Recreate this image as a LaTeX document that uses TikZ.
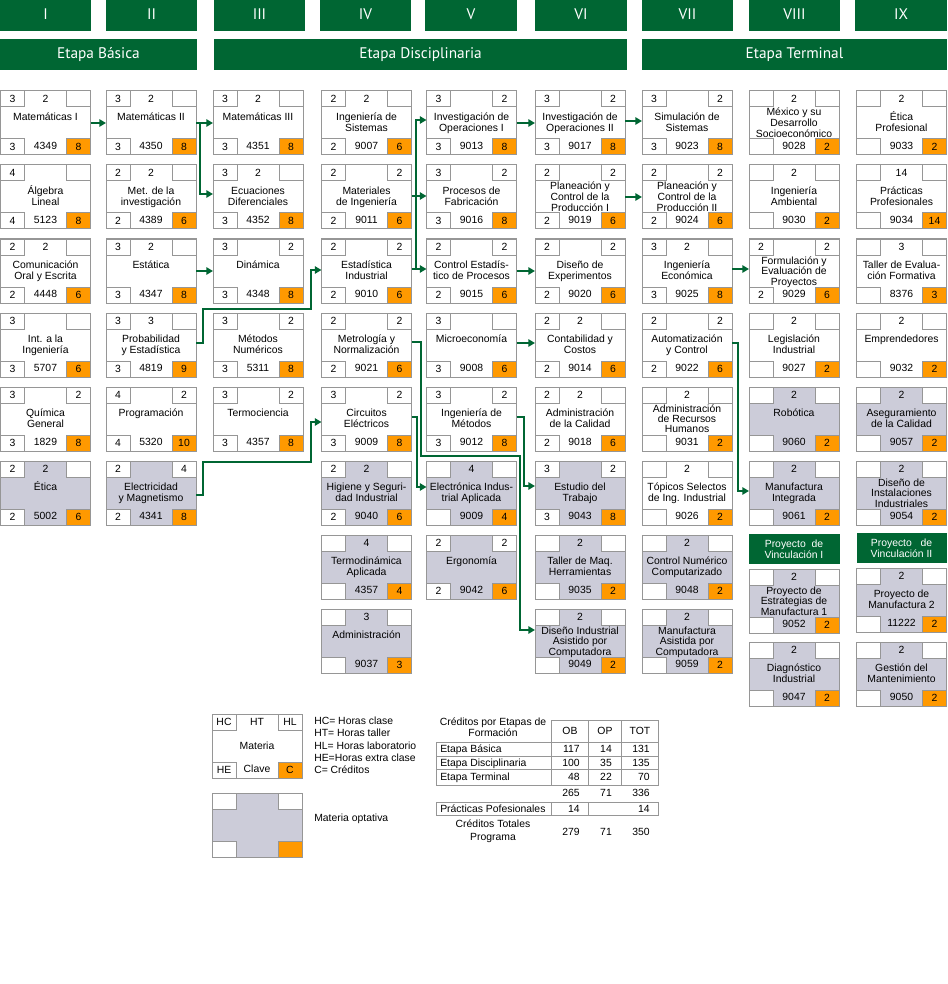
\documentclass[tikz,border=0pt]{standalone}
\usepackage{fontspec}
\setmainfont{Liberation Sans}
\newfontfamily\hdrfont{PT Sans}
\usetikzlibrary{arrows.meta,calc}
\definecolor{ugreen}{RGB}{0,102,51}
\definecolor{uorange}{RGB}{255,153,0}
\definecolor{ugray}{RGB}{204,204,217}
\definecolor{uline}{RGB}{150,150,150}
\def\parsedata#1,#2,#3,#4,#5,#6\relax{\def\dHC{#1}\def\dHT{#2}\def\dHL{#3}\def\dHE{#4}\def\dCl{#5}\def\dC{#6}}
\newcommand\nm[1]{\begin{tabular}[t]{@{}c@{}}#1\end{tabular}}
\tikzset{
  cbox/.style={draw=uline, line width=0.75pt, rectangle, minimum width=67.5pt, minimum height=48pt, inner sep=0pt, outer sep=0pt, anchor=north west},
  cell/.style={draw=uline, line width=0.75pt, fill=white},
  ctext/.style={font=\fontsize{7.8pt}{8.4pt}\selectfont, inner sep=0pt},
  htext/.style={font=\hdrfont\fontsize{11.5pt}{13pt}\selectfont, text=white, inner sep=0pt, anchor=base},
  arr/.style={draw=ugreen, line width=1.5pt, -{Triangle[length=5pt,width=5.5pt]}},
  tline/.style={draw=uline, line width=0.75pt},
}
\newcommand\course[8]{%
  \def\arraystretch{#8}%
  \parsedata#5\relax
  \node[cbox,fill=#4] (#1) at (#2,#3) {};
  \draw[cell] (#2,#3) rectangle (#2+24,#3+16);
  \draw[cell] (#2+66,#3) rectangle (#2+90,#3+16);
  \draw[cell] (#2,#3+48) rectangle (#2+24,#3+64);
  \draw[cell,fill=uorange] (#2+66,#3+48) rectangle (#2+90,#3+64);
  \node[ctext] (#1hc) at (#2+12,#3+8) {\dHC};
  \node[ctext] (#1ht) at (#2+45,#3+8) {\dHT};
  \node[ctext] (#1hl) at (#2+78,#3+8) {\dHL};
  \node[ctext] (#1he) at (#2+12,#3+56) {\dHE};
  \node[ctext] (#1cl) at (#2+45,#3+55) {\dCl};
  \node[ctext] (#1cr) at (#2+78,#3+56) {\dC};
  \node[ctext,anchor=base] (#1n) at (#2+45,#3+#7) {\nm{#6}};
}
\newcommand\cA[6]{\course{#1}{#2}{#3}{#4}{#5}{#6}{29.5}{1}}
\newcommand\cB[6]{\course{#1}{#2}{#3}{#4}{#5}{#6}{25}{0.92}}
\begin{document}
\begin{tikzpicture}[x=0.75pt,y=-0.75pt]
\fill[white] (0,0) rectangle (947,984);
\useasboundingbox (0,0) rectangle (947,984);
% headers
\foreach \a/\b/\t/\n in {0/91/I/1,106/197/II/2,214/305/III/3,320/411/IV/4,425/517/V/5,535/627/VI/6,642/733/VII/7,749/840/VIII/8,855/947/IX/9}{
  \fill[ugreen] (\a,0) rectangle (\b,31);
  \node[htext] (h\n) at ({(\a+\b)/2},19.5) {\t};
}
\fill[ugreen] (0,39) rectangle (197,70);
\node[htext] (eb) at (98.5,59) {Etapa Básica};
\fill[ugreen] (214,39) rectangle (627,70);
\node[htext] (ed) at (420.5,59) {Etapa Disciplinaria};
\fill[ugreen] (642,39) rectangle (947,70);
\node[htext] (et) at (794.5,59) {Etapa Terminal};
% column I
\cA{c11}{0.5}{91}{white}{3,2,,3,4349,8}{Matemáticas I}
\cA{c12}{0.5}{165}{white}{4,,,4,5123,8}{Álgebra\\Lineal}
\cA{c13}{0.5}{239}{white}{2,2,,2,4448,6}{Comunicación\\Oral y Escrita}
\cA{c14}{0.5}{313}{white}{3,,,3,5707,6}{Int. a la\\Ingeniería}
\cA{c15}{0.5}{387}{white}{3,,2,3,1829,8}{Química\\General}
\cA{c16}{0.5}{461}{ugray}{2,2,,2,5002,6}{Ética}
% column II
\cA{c21}{106}{91}{white}{3,2,,3,4350,8}{Matemáticas II}
\cA{c22}{106}{165}{white}{2,2,,2,4389,6}{Met. de la\\investigación}
\cA{c23}{106}{239}{white}{3,2,,3,4347,8}{Estática}
\cA{c24}{106}{313}{white}{3,3,,3,4819,9}{Probabilidad\\y Estadística}
\cA{c25}{106}{387}{white}{4,,2,4,5320,10}{Programación}
\cA{c26}{106}{461}{ugray}{2,,4,2,4341,8}{Electricidad\\y Magnetismo}
% column III
\cA{c31}{213}{91}{white}{3,2,,3,4351,8}{Matemáticas III}
\cA{c32}{213}{165}{white}{3,2,,3,4352,8}{Ecuaciones\\Diferenciales}
\cA{c33}{213}{239}{white}{3,,2,3,4348,8}{Dinámica}
\cA{c34}{213}{313}{white}{3,,2,3,5311,8}{Métodos\\Numéricos}
\cA{c35}{213}{387}{white}{3,,2,3,4357,8}{Termociencia}
% column IV
\cA{c41}{321.5}{91}{white}{2,2,,2,9007,6}{Ingeniería de\\Sistemas}
\cA{c42}{321.5}{165}{white}{2,,2,2,9011,6}{Materiales\\de Ingeniería}
\cA{c43}{321.5}{239}{white}{2,,2,2,9010,6}{Estadística\\Industrial}
\cA{c44}{321.5}{313}{white}{2,,2,2,9021,6}{Metrología y\\Normalización}
\cA{c45}{321.5}{387}{white}{3,,2,3,9009,8}{Circuitos\\Eléctricos}
\cA{c46}{321.5}{461}{ugray}{2,2,,2,9040,6}{Higiene y Seguri-\\dad Industrial}
\cA{c47}{321.5}{535}{ugray}{,4,,,4357,4}{Termodinámica\\Aplicada}
\cA{c48}{321.5}{609}{ugray}{,3,,,9037,3}{Administración}
% column V
\cA{c51}{426.5}{91}{white}{3,,2,3,9013,8}{Investigación de\\Operaciones I}
\cA{c52}{426.5}{165}{white}{3,,2,3,9016,8}{Procesos de\\Fabricación}
\cA{c53}{426.5}{239}{white}{2,,2,2,9015,6}{Control Estadís-\\tico de Procesos}
\cA{c54}{426.5}{313}{white}{3,,,3,9008,6}{Microeconomía}
\cA{c55}{426.5}{387}{white}{3,,2,3,9012,8}{Ingeniería de\\Métodos}
\cA{c56}{426.5}{461}{ugray}{,4,,,9009,4}{Electrónica Indus-\\trial Aplicada}
\cA{c57}{426.5}{535}{ugray}{2,,2,2,9042,6}{Ergonomía}
% column VI
\cA{c61}{535}{91}{white}{3,,2,3,9017,8}{Investigación de\\Operaciones II}
\cB{c62}{535}{165}{white}{2,,2,2,9019,6}{Planeación y\\Control de la\\Producción I}
\cA{c63}{535}{239}{white}{2,,2,2,9020,6}{Diseño de\\Experimentos}
\cA{c64}{535}{313}{white}{2,2,,2,9014,6}{Contabilidad y\\Costos}
\cA{c65}{535}{387}{white}{2,2,,2,9018,6}{Administración\\de la Calidad}
\cA{c66}{535}{461}{ugray}{3,,2,3,9043,8}{Estudio del\\Trabajo}
\cA{c67}{535}{535}{ugray}{,2,,,9035,2}{Taller de Maq.\\Herramientas}
\cB{c68}{535}{609}{ugray}{,2,,,9049,2}{Diseño Industrial\\Asistido por\\Computadora}
% column VII
\cA{c71}{642}{91}{white}{3,,2,3,9023,8}{Simulación de\\Sistemas}
\cB{c72}{642}{165}{white}{2,,2,2,9024,6}{Planeación y\\Control de la\\Producción II}
\cA{c73}{642}{239}{white}{3,2,,3,9025,8}{Ingeniería\\Económica}
\cA{c74}{642}{313}{white}{2,,2,2,9022,6}{Automatización\\y Control}
\cB{c75}{642}{387}{white}{,2,,,9031,2}{Administración\\de Recursos\\Humanos}
\cA{c76}{642}{461}{white}{,2,,,9026,2}{Tópicos Selectos\\de Ing. Industrial}
\cA{c77}{642}{535}{ugray}{,2,,,9048,2}{Control Numérico\\Computarizado}
\cB{c78}{642}{609}{ugray}{,2,,,9059,2}{Manufactura\\Asistida por\\Computadora}
% column VIII
\cB{c81}{749}{91}{white}{,2,,,9028,2}{México y su\\Desarrollo\\Socioeconómico}
\cA{c82}{749}{165}{white}{,2,,,9030,2}{Ingeniería\\Ambiental}
\cB{c83}{749}{239}{white}{2,,2,2,9029,6}{Formulación y\\Evaluación de\\Proyectos}
\cA{c84}{749}{313}{white}{,2,,,9027,2}{Legislación\\Industrial}
\cA{c85}{749}{387}{ugray}{,2,,,9060,2}{Robótica}
\cA{c86}{749}{461}{ugray}{,2,,,9061,2}{Manufactura\\Integrada}
\fill[ugreen] (748.5,534) rectangle (839.5,564);
\node[ctext,text=white,align=center] (pv1) at (794,549) {Proyecto\ \ de\\Vinculación I};
\cB{c87}{749}{569}{ugray}{,2,,,9052,2}{Proyecto de\\Estrategias de\\Manufactura 1}
\cA{c88}{749}{642}{ugray}{,2,,,9047,2}{Diagnóstico\\Industrial}
% column IX
\cA{c91}{856.5}{91}{white}{,2,,,9033,2}{Ética\\Profesional}
\cA{c92}{856.5}{165}{white}{,14,,,9034,14}{Prácticas\\Profesionales}
\cA{c93}{856.5}{239}{white}{,3,,,8376,3}{Taller de Evalua-\\ción Formativa}
\cA{c94}{856.5}{313}{white}{,2,,,9032,2}{Emprendedores}
\cA{c95}{856.5}{387}{ugray}{,2,,,9057,2}{Aseguramiento\\de la Calidad}
\cB{c96}{856.5}{461}{ugray}{,2,,,9054,2}{Diseño de\\Instalaciones\\Industriales}
\fill[ugreen] (856.5,533) rectangle (946.5,563);
\node[ctext,text=white,align=center] (pv2) at (901.5,548) {Proyecto\ \ \ de\\Vinculación II};
\cA{c97}{856.5}{568}{ugray}{,2,,,11222,2}{Proyecto de\\Manufactura 2}
\cA{c98}{856.5}{642}{ugray}{,2,,,9050,2}{Gestión del\\Mantenimiento}
% connectors
\draw[arr] (c11.east) -- (c21.west);
\draw[arr] (c21.east) -- (c31.west);
\draw[arr] ($(c21.east)+(3.5,0)$) |- ($(c32.west)+(0,-3)$);
\draw[arr] (c23.east) -- (c33.west);
\coordinate (k1) at ($(c43.west)+(-11,-1)$);
\draw[arr] ($(c24.east)+(0,-2)$) -- ++(7,0) |- ($(k1|-c33.south)+(0,6)$) -- (k1) -- ($(c43.west)+(0,-1)$);
\coordinate (k2) at ($(c45.west)+(-11,3)$);
\draw[arr] ($(c26.east)+(0,2)$) -- ++(7,0) |- ($(k2|-c35.south)+(0,11)$) -- (k2) -- ($(c45.west)+(0,3)$);
\draw[arr] ($(c42.east)+(0,-1)$) -- ($(c52.west)+(0,-1)$);
\draw[arr] ($(c43.east)+(0,-2)$) -- ($(c53.west)+(0,-2)$);
\draw[arr] ($(c43.east)+(4,-2)$) |- ($(c51.west)+(0,-3)$);
\draw[arr] (c51.east) -- (c61.west);
\draw[arr] ($(c61.east)+(0,-2)$) -- ($(c71.west)+(0,-2)$);
\draw[arr] (c62.east) -- (c72.west);
\draw[arr] (c53.east) -- (c63.west);
\draw[arr] ($(c73.east)+(0,-2)$) -- ($(c83.west)+(0,-2)$);
\draw[arr] ($(c54.east)+(0,-2)$) -- ($(c64.west)+(0,-2)$);
\draw[arr] ($(c44.east)+(0,-3)$) -- ++(9.5,0) |- ($(c55.south east)+(3.5,4.5)$) |- ($(c68.north west)+(0,21)$);
\draw[arr] ($(c45.east)+(0,-2)$) -- ++(5,0) |- ($(c56.north west)+(0,26)$);
\draw[arr] ($(c55.east)+(0,-2)$) -- ++(7,0) |- ($(c66.north west)+(0,25)$);
\draw[arr] ($(c74.east)+(0,-2)$) -- ++(6,0) |- ($(c86.north west)+(0,30)$);
% legend
\course{leg}{212}{714}{white}{HC,HT,HL,HE,Clave,C}{Materia}{35.5}{1}
\course{lego}{212}{793}{ugray}{,,,,,}{}{29.5}{1}
\node[ctext,anchor=base west] (l1) at (314,724.6) {HC= Horas clase};
\node[ctext,anchor=base west] (l2) at (314,736.6) {HT= Horas taller};
\node[ctext,anchor=base west] (l3) at (314,749.3) {HL= Horas laboratorio};
\node[ctext,anchor=base west] (l4) at (314,761.6) {HE=Horas extra clase};
\node[ctext,anchor=base west] (l5) at (314,773.3) {C= Créditos};
\node[ctext,anchor=base west] (l6) at (314,821.6) {Materia optativa};
% table
\node[ctext,anchor=base] (t1) at (493,725.3) {Créditos por Etapas de};
\node[ctext,anchor=base] (t2) at (493,736.9) {Formación};
\draw[tline] (551.7,720) rectangle (588.3,742);
\draw[tline] (588.3,720) rectangle (621.7,742);
\draw[tline] (621.7,720) rectangle (658,742);
\foreach \ya/\yb in {742/756,756/769.5,769.5/785}{
  \draw[tline] (436.7,\ya) rectangle (551.7,\yb);
  \draw[tline] (551.7,\ya) rectangle (588.3,\yb);
  \draw[tline] (588.3,\ya) rectangle (621.7,\yb);
  \draw[tline] (621.7,\ya) rectangle (658,\yb);
}
\node[ctext,anchor=base] (tob) at (570,734.6) {OB};
\node[ctext,anchor=base] (top) at (605,734.6) {OP};
\node[ctext,anchor=base] (ttot) at (640,734.6) {TOT};
\foreach \lab/\ob/\op/\tot/\yy [count=\i] in {Etapa Básica/117/14/131/752.6, Etapa Disciplinaria/100/35/135/766.3, Etapa Terminal/48/22/70/780.6}{
  \node[ctext,anchor=base west] (r\i) at (440,\yy) {\lab};
  \node[ctext,anchor=base east] (r\i ob) at (580,\yy) {\ob};
  \node[ctext,anchor=base] (r\i op) at (606,\yy) {\op};
  \node[ctext,anchor=base east] (r\i tot) at (650,\yy) {\tot};
}
\node[ctext,anchor=base east] (s1) at (580,796.9) {265};
\node[ctext,anchor=base] (s2) at (606,796.9) {71};
\node[ctext,anchor=base east] (s3) at (650,796.9) {336};
\draw[tline] (436.7,802.7) rectangle (658,815.5);
\draw[tline] (551.7,802.7) -- (551.7,815.5);
\draw[tline] (588.3,802.7) -- (588.3,815.5);
\node[ctext,anchor=base west] (pp) at (440,812.6) {Prácticas Pofesionales};
\node[ctext,anchor=base east] (ppob) at (580,812.6) {14};
\node[ctext,anchor=base east] (pptot) at (650,812.6) {14};
\node[ctext,anchor=base] (ct1) at (493,827.9) {Créditos Totales};
\node[ctext,anchor=base] (ct2) at (493,840.3) {Programa};
\node[ctext,anchor=base east] (g1) at (580,835.3) {279};
\node[ctext,anchor=base] (g2) at (606,835.3) {71};
\node[ctext,anchor=base east] (g3) at (650,835.3) {350};
\end{tikzpicture}
\end{document}
